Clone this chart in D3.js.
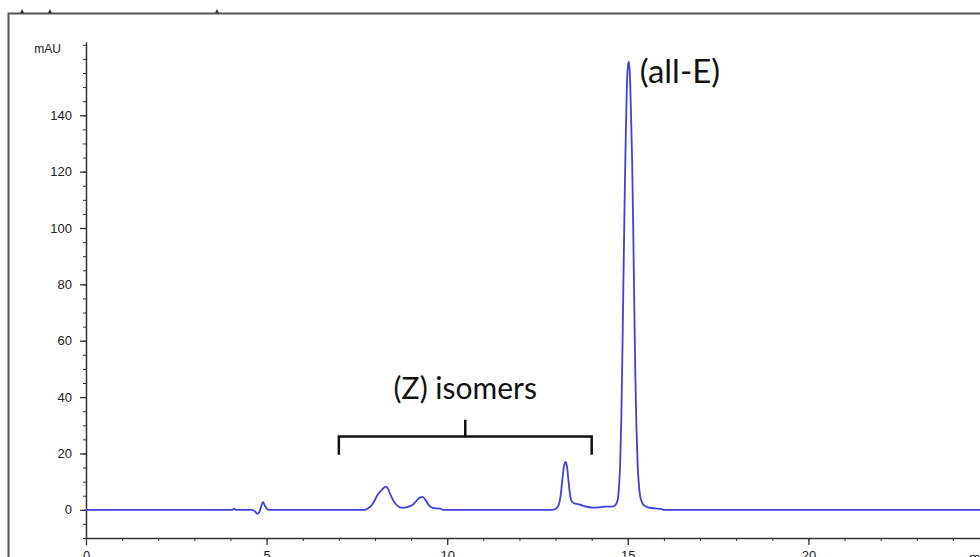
<!DOCTYPE html>
<html>
<head>
<meta charset="utf-8">
<script src="https://cdnjs.cloudflare.com/ajax/libs/d3/7.8.5/d3.min.js"></script>
<style>
    body { margin: 0; background: #fff; }
    svg { display: block; }
    .tick text { font-family: "Liberation Sans", Arial, sans-serif; fill: #222; }
</style>
</head>
<body>
<div class="display-plot"></div>
<script>
    // retention time (min) and absorbance (mAU)
    var times = [0, 4.05, 4.10, 4.15, 4.60, 4.68, 4.74, 4.80, 4.85, 4.90, 4.95, 5.02, 5.08,
        7.70, 7.80, 7.90, 8.00, 8.08, 8.15, 8.22, 8.30, 8.36, 8.44, 8.52, 8.62, 8.72, 8.82, 8.95,
        9.05, 9.15, 9.25, 9.32, 9.40, 9.47, 9.55, 9.65, 9.80, 9.90,
        12.90, 13.00, 13.08, 13.14, 13.19, 13.24, 13.28, 13.32, 13.36, 13.40, 13.45, 13.52, 13.62,
        13.75, 13.90, 14.05, 14.20, 14.35, 14.50,
        14.60, 14.66, 14.72, 14.76, 14.79, 14.82, 14.85, 14.88, 14.91, 14.94, 14.97, 15.00, 15.03,
        15.06, 15.09, 15.12, 15.15, 15.18, 15.21, 15.24, 15.27, 15.30, 15.34, 15.40, 15.48, 15.58,
        15.75, 15.92, 16.00, 25];
    var mAU = [0, 0, 0.4, 0, 0, -0.6, -1.4, -0.8, 1.2, 2.8, 1.5, 0.2, 0,
        0, 0.5, 1.5, 3.5, 5.5, 6.5, 7.5, 8.2, 7.5, 5, 3, 1.5, 0.8, 0.8, 1.2,
        1.8, 3.2, 4.4, 4.6, 3.5, 2, 1, 0.6, 0.4, 0,
        0, 0.3, 1.5, 5, 11, 16, 17, 15, 10, 5.5, 3, 2.3, 2,
        1.5, 1.0, 0.8, 0.9, 1.1, 1.1,
        1.2, 1.8, 3.5, 9, 17, 32, 55, 82, 108, 130, 148, 157, 159,
        154, 140, 124, 100, 72, 47, 29, 17, 10, 5, 2.5, 1.3, 0.8,
        0.5, 0.3, 0, 0];

    var yTickValues = [0, 20, 40, 60, 80, 100, 120, 140];
    var xTickValues = [0, 5, 10, 15, 20];
    var yLabel = "mAU";
    var xLabel = "min";
    var peakLabel = "(all-E)";
    var groupLabel = "(Z) isomers";
    var groupRange = [7, 14];

    var w = 980;
    var h = 557;

    var data = times.map(function (t, i) {
        return [t, mAU[i]];
    });

    var svg = d3.select(".display-plot")
        .append("svg")
        .attr("width", w)
        .attr("height", h);

    var x = d3.scaleLinear().domain([0, 25]).range([86, 989]);
    var y = d3.scaleLinear().domain([-10, 166]).range([538, 42]);

    // outer frame of the instrument printout
    svg.append("rect")
        .attr("x", 8.5)
        .attr("y", 13.5)
        .attr("width", w + 20)
        .attr("height", h + 20)
        .attr("fill", "none")
        .attr("stroke", "#555")
        .attr("stroke-width", 2);

    svg.selectAll(".frame-mark")
        .data([22, 50, 217])
        .enter()
        .append("path")
        .attr("class", "frame-mark")
        .attr("d", function (d) { return "M" + (d - 2) + ",13L" + d + ",9L" + (d + 2) + ",13Z"; })
        .attr("fill", "#333");

    // y axis: major ticks plus minor ticks every 5 mAU
    var yMinor = d3.range(-10, 166, 5);
    svg.append("g")
        .attr("transform", "translate(" + x(0) + ",0)")
        .call(d3.axisLeft(y).tickValues(yMinor).tickSize(3).tickSizeOuter(0).tickFormat(""))
        .call(function (g) { g.selectAll("line").attr("stroke", "#333"); });

    var yAxis = svg.append("g")
        .attr("transform", "translate(" + x(0) + ",0)")
        .call(d3.axisLeft(y).tickValues(yTickValues).tickSize(6).tickPadding(8).tickSizeOuter(0));
    yAxis.selectAll("text").attr("font-size", 13);
    yAxis.selectAll("line").attr("stroke", "#333").attr("stroke-width", 1.3);
    yAxis.select(".domain").attr("stroke", "#333").attr("stroke-width", 1.5);

    // x axis
    var xMinor = d3.range(0, 26, 1);
    svg.append("g")
        .attr("transform", "translate(0," + y(-10) + ")")
        .call(d3.axisBottom(x).tickValues(xMinor).tickSize(3).tickSizeOuter(0).tickFormat(""))
        .call(function (g) { g.selectAll("line").attr("stroke", "#333"); });

    var xAxis = svg.append("g")
        .attr("transform", "translate(0," + y(-10) + ")")
        .call(d3.axisBottom(x).tickValues(xTickValues).tickSize(7).tickPadding(6).tickSizeOuter(0));
    xAxis.selectAll("text").attr("font-size", 13);
    xAxis.selectAll("line").attr("stroke", "#333").attr("stroke-width", 1.3);
    xAxis.select(".domain").attr("stroke", "#333").attr("stroke-width", 1.5);

    svg.append("text")
        .text(yLabel)
        .attr("x", x(0) - 25)
        .attr("y", y(162))
        .attr("text-anchor", "end")
        .attr("font-family", "Liberation Sans, Arial, sans-serif")
        .attr("font-size", "12px")
        .attr("fill", "#222");

    svg.append("text")
        .text(xLabel)
        .attr("x", x(24.45))
        .attr("y", y(-10) + 24)
        .attr("font-family", "Liberation Sans, Arial, sans-serif")
        .attr("font-size", "13px")
        .attr("fill", "#222");

    // chromatogram trace
    var line = d3.line()
        .x(function (d) { return x(d[0]); })
        .y(function (d) { return y(d[1]); })
        .curve(d3.curveMonotoneX);

    svg.append("path")
        .datum(data)
        .attr("d", line)
        .attr("fill", "none")
        .attr("stroke", "#4040dc")
        .attr("stroke-width", 1.8);

    // bracket over the (Z) isomer peaks
    var mid = (groupRange[0] + groupRange[1]) / 2;
    var bracket = d3.path();
    bracket.moveTo(x(groupRange[0]), y(19.5));
    bracket.lineTo(x(groupRange[0]), y(26));
    bracket.lineTo(x(groupRange[1]), y(26));
    bracket.lineTo(x(groupRange[1]), y(19.5));
    bracket.moveTo(x(mid), y(26));
    bracket.lineTo(x(mid), y(32));

    svg.append("path")
        .attr("d", bracket.toString())
        .attr("fill", "none")
        .attr("stroke", "#111")
        .attr("stroke-width", 2.5);

    svg.append("text")
        .text(groupLabel)
        .attr("x", x(mid))
        .attr("y", y(39.5))
        .attr("text-anchor", "middle")
        .attr("font-family", "Lato, sans-serif")
        .attr("font-size", "30px")
        .attr("fill", "#111");

    svg.append("text")
        .text(peakLabel)
        .attr("x", x(15.33))
        .attr("y", y(151.5))
        .attr("font-family", "Lato, sans-serif")
        .attr("font-size", "33px")
        .attr("fill", "#111");
</script>
</body>
</html>
